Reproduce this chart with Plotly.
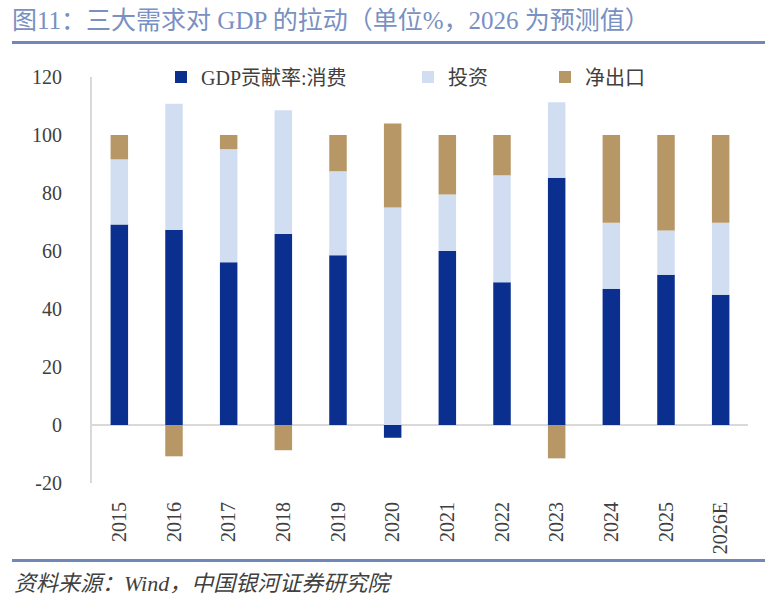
import plotly.graph_objects as go

# ---- data ----
years = ["2015", "2016", "2017", "2018", "2019", "2020",
         "2021", "2022", "2023", "2024", "2025", "2026E"]
consumption = [69.1, 67.2, 56.1, 65.9, 58.5, -4.4, 60.0, 49.2, 85.3, 47.0, 51.8, 44.9]
investment = [22.5, 43.6, 39.0, 42.6, 29.0, 75.0, 19.5, 36.9, 26.0, 22.7, 15.3, 24.8]
net_exports = [8.4, -10.8, 4.9, -8.7, 12.5, 29.0, 20.5, 13.9, -11.5, 30.3, 32.9, 30.3]

series_names = ["GDP贡献率:消费", "投资", "净出口"]
y_ticks = [-20, 0, 20, 40, 60, 80, 100, 120]
y_tick_labels = [str(v) for v in y_ticks]

title_text = "图11：三大需求对 GDP 的拉动（单位%，2026 为预测值）"
source_text = "资料来源：Wind，中国银河证券研究院"

# ---- style ----
W, H = 784, 607
L, R, T, B = 92, 36, 77, 124
PW, PH = W - L - R, H - T - B
FONT = "Liberation Serif, 'Noto Sans CJK SC', serif"
C_BLUE = "rgb(10,47,143)"
C_LIGHT = "rgb(209,222,241)"
C_TAN = "rgb(184,151,103)"
C_LINE = "rgb(111,136,184)"
C_TEXT = "rgb(64,64,64)"


def px_x(p):
    return (p - L) / PW


def px_y(p):
    return (H - B - p) / PH


fig = go.Figure()
fig.add_trace(go.Bar(x=years, y=consumption, name=series_names[0],
                     marker=dict(color=C_BLUE, line=dict(width=0)), legend="legend"))
fig.add_trace(go.Bar(x=years, y=investment, name=series_names[1],
                     marker=dict(color=C_LIGHT, line=dict(width=0)), legend="legend2"))
fig.add_trace(go.Bar(x=years, y=net_exports, name=series_names[2],
                     marker=dict(color=C_TAN, line=dict(width=0)), legend="legend3"))

leg_common = dict(orientation="h", yanchor="middle", xanchor="left",
                  font=dict(family=FONT, size=20, color=C_TEXT),
                  bgcolor="rgba(0,0,0,0)", borderwidth=0)

fig.update_layout(
    width=W, height=H, autosize=False,
    margin=dict(l=L, r=R, t=T, b=B),
    paper_bgcolor="white", plot_bgcolor="white",
    barmode="relative", bargap=0.68,
    showlegend=True,
    legend=dict(x=px_x(161), y=1.0, **leg_common),
    legend2=dict(x=px_x(408), y=1.0, **leg_common),
    legend3=dict(x=px_x(545), y=1.0, **leg_common),
    title=dict(text=title_text, xref="container", yref="container",
               x=12 / W, xanchor="left", y=1 - 20 / H, yanchor="middle",
               font=dict(family=FONT, size=25, color="rgb(120,144,194)")),
    xaxis=dict(type="category", categoryorder="array", categoryarray=years,
               range=[-0.5, len(years) - 0.5],
               showline=False, showgrid=False, zeroline=False, ticks="",
               tickangle=-90, ticklabelstandoff=14,
               tickfont=dict(family=FONT, size=20, color=C_TEXT)),
    yaxis=dict(range=[-20, 120], tickvals=y_ticks, ticktext=y_tick_labels,
               showgrid=False,
               showline=True, linecolor="rgb(217,217,217)", linewidth=2,
               zeroline=True, zerolinecolor="rgb(217,217,217)", zerolinewidth=2,
               ticks="", ticklabelstandoff=24,
               tickfont=dict(family=FONT, size=20, color=C_TEXT)),
    shapes=[
        dict(type="line", xref="paper", yref="paper",
             x0=px_x(12), x1=px_x(765), y0=px_y(42.5), y1=px_y(42.5),
             line=dict(color=C_LINE, width=3)),
        dict(type="line", xref="paper", yref="paper",
             x0=px_x(12), x1=px_x(765), y0=px_y(560.5), y1=px_y(560.5),
             line=dict(color=C_LINE, width=3)),
    ],
    annotations=[
        dict(text="<i>" + source_text + "</i>", xref="paper", yref="paper",
             x=px_x(12), y=px_y(583), xanchor="left", yanchor="middle",
             showarrow=False, font=dict(family=FONT, size=22, color=C_TEXT)),
    ],
)

fig.write_html("out.html")
